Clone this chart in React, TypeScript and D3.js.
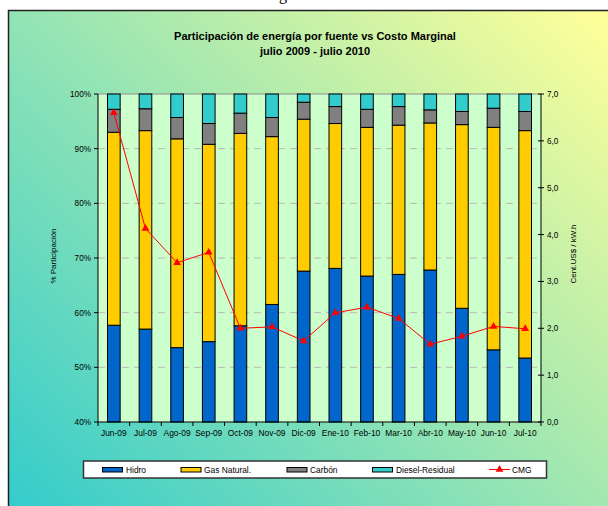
import React from "react";
import * as d3 from "d3";

const categories = ["Jun-09","Jul-09","Ago-09","Sep-09","Oct-09","Nov-09","Dic-09","Ene-10","Feb-10","Mar-10","Abr-10","May-10","Jun-10","Jul-10"];
const hidro = [57.7, 57.0, 53.6, 54.7, 57.6, 61.5, 67.6, 68.1, 66.7, 67.0, 67.8, 60.8, 53.2, 51.7];
const gasNatural = [35.3, 36.3, 38.2, 36.1, 35.2, 30.7, 27.8, 26.5, 27.2, 27.3, 26.9, 33.6, 40.7, 41.6];
const carbon = [4.2, 4.0, 3.9, 3.8, 3.7, 3.5, 3.1, 3.1, 3.3, 3.4, 2.4, 2.4, 3.5, 3.5];
const diesel = [2.8, 2.7, 4.3, 5.4, 3.5, 4.3, 1.5, 2.3, 2.8, 2.3, 2.9, 3.2, 2.6, 3.2];
const cmg = [6.6, 4.13, 3.40, 3.62, 2.0, 2.03, 1.73, 2.33, 2.45, 2.21, 1.66, 1.83, 2.04, 1.99];
const leftTicks = [40, 50, 60, 70, 80, 90, 100];
const rightTicks = [0, 1, 2, 3, 4, 5, 6, 7];
const seriesNames = ["Hidro", "Gas Natural.", "Carbón", "Diesel-Residual"];
const seriesColors = ["#0066CC", "#FFCC00", "#808080", "#33CCCC"];

const FONT = "'Liberation Sans', Arial, sans-serif";

export default function App() {
  const L = 98, R = 541, T = 94, B = 422;
  const x = d3.scaleBand<string>().domain(categories).range([L, R]).paddingInner(0).paddingOuter(0);
  const yL = d3.scaleLinear().domain([40, 100]).range([B, T]);
  const yR = d3.scaleLinear().domain([0, 7]).range([B, T]);
  const bw = x.bandwidth() / 2.5;

  const rows = categories.map((c, i) => ({
    cat: c,
    s0: hidro[i],
    s1: gasNatural[i],
    s2: carbon[i],
    s3: diesel[i],
  }));
  const stack = d3.stack<any>().keys(["s0", "s1", "s2", "s3"]);
  const layers = stack(rows);

  const clampY = (v: number) => yL(Math.max(40, Math.min(100, v)));
  const line = d3.line<number>()
    .x((_, i) => (x(categories[i]) as number) + x.bandwidth() / 2)
    .y((d) => yR(d));
  const tri = d3.symbol().type(d3.symbolTriangle).size(26)();

  const legendItems = [
    { name: seriesNames[0], color: seriesColors[0], sx: 102.5, tx: 126 },
    { name: seriesNames[1], color: seriesColors[1], sx: 181, tx: 204 },
    { name: seriesNames[2], color: seriesColors[2], sx: 287, tx: 310 },
    { name: seriesNames[3], color: seriesColors[3], sx: 372.5, tx: 396 },
  ];

  return (
    <svg width={608} height={506} style={{ position: "absolute", left: 0, top: 0 }} fontFamily={FONT}>
      <defs>
        <linearGradient id="bg" gradientUnits="userSpaceOnUse" x1={60} y1={560} x2={600} y2={10}>
          <stop offset="0" stopColor="#33CCCC" />
          <stop offset="1" stopColor="#FFFF99" />
        </linearGradient>
      </defs>
      <rect x={0} y={0} width={608} height={506} fill="#ffffff" />
      <text x={279} y={0} fontFamily="'Liberation Serif', serif" fontSize={16} fill="#000">g</text>
      <rect x={8.5} y={10.5} width={640} height={540} fill="url(#bg)" stroke="#222" strokeWidth={1.5} />

      <text x={315} y={40} textAnchor="middle" fontSize={11} fontWeight="bold" fill="#000">
        Participación de energía por fuente vs Costo Marginal
      </text>
      <text x={315} y={55} textAnchor="middle" fontSize={11} fontWeight="bold" fill="#000">
        julio 2009 - julio 2010
      </text>

      {/* plot area */}
      <rect x={L} y={T} width={R - L} height={B - T} fill="#CCFFCC" />
      {leftTicks.filter((t) => t > 40 && t < 100).map((t) => (
        <line key={t} x1={L} x2={R} y1={yL(t)} y2={yL(t)} stroke="#B8B8B8" strokeWidth={1} strokeDasharray="7,5" />
      ))}
      <line x1={L} x2={R} y1={T} y2={T} stroke="#909090" strokeWidth={1} />

      {/* bars */}
      {layers.map((layer, li) => (
        <g key={li}>
          {layer.map((d, i) => {
            const y0 = clampY(d[0]);
            const y1 = clampY(d[1]);
            const cx = (x(categories[i]) as number) + x.bandwidth() / 2;
            return (
              <rect key={i} x={cx - bw / 2} y={y1} width={bw} height={Math.max(0, y0 - y1)}
                fill={seriesColors[li]} stroke="#000" strokeWidth={1} />
            );
          })}
        </g>
      ))}

      {/* CMG line */}
      <path d={line(cmg) || ""} fill="none" stroke="#FF0000" strokeWidth={1} />
      {cmg.map((v, i) => (
        <path key={i} d={tri || ""} fill="#FF0000"
          transform={`translate(${(x(categories[i]) as number) + x.bandwidth() / 2},${yR(v)})`} />
      ))}

      {/* axes */}
      <line x1={L} x2={L} y1={T} y2={B} stroke="#000" strokeWidth={1} />
      <line x1={R} x2={R} y1={T} y2={B} stroke="#000" strokeWidth={1} />
      <line x1={L} x2={R} y1={B} y2={B} stroke="#000" strokeWidth={1} />
      {leftTicks.map((t) => (
        <g key={t}>
          <line x1={L - 4} x2={L} y1={yL(t)} y2={yL(t)} stroke="#000" />
          <text x={91} y={yL(t) + 3} textAnchor="end" fontSize={8.2} fill="#000">{t}%</text>
        </g>
      ))}
      {rightTicks.map((t) => (
        <g key={t}>
          <line x1={R - 3} x2={R + 3} y1={yR(t)} y2={yR(t)} stroke="#000" />
          <text x={547} y={yR(t) + 3} fontSize={8.2} fill="#000">{d3.format(".1f")(t).replace(".", ",")}</text>
        </g>
      ))}
      {categories.map((c, i) => (
        <line key={"t" + i} x1={(x(c) as number)} x2={(x(c) as number)} y1={B} y2={B + 4} stroke="#000" />
      ))}
      <line x1={R} x2={R} y1={B} y2={B + 4} stroke="#000" />
      {categories.map((c) => (
        <text key={c} x={(x(c) as number) + x.bandwidth() / 2} y={436} textAnchor="middle" fontSize={8.4} fill="#000">{c}</text>
      ))}

      <text transform="translate(56,256) rotate(-90)" textAnchor="middle" fontSize={8} fill="#000">% Participación</text>
      <text transform="translate(576,254) rotate(-90)" textAnchor="middle" fontSize={8} fill="#000">Cent.US$ / kW.h</text>

      {/* legend */}
      <rect x={83.5} y={461} width={463} height={17} fill="#fff" stroke="#333" strokeWidth={1.5} />
      {legendItems.map((it) => (
        <g key={it.name}>
          <rect x={it.sx} y={467.5} width={20} height={4.5} fill={it.color} stroke="#000" strokeWidth={1} />
          <text x={it.tx} y={472.5} fontSize={8.4} fill="#000">{it.name}</text>
        </g>
      ))}
      <line x1={489} x2={510} y1={469.5} y2={469.5} stroke="#FF0000" strokeWidth={1} />
      <path d={tri || ""} fill="#FF0000" transform="translate(499.5,469.5)" />
      <text x={512} y={472.5} fontSize={8.4} fill="#000">CMG</text>
    </svg>
  );
}
